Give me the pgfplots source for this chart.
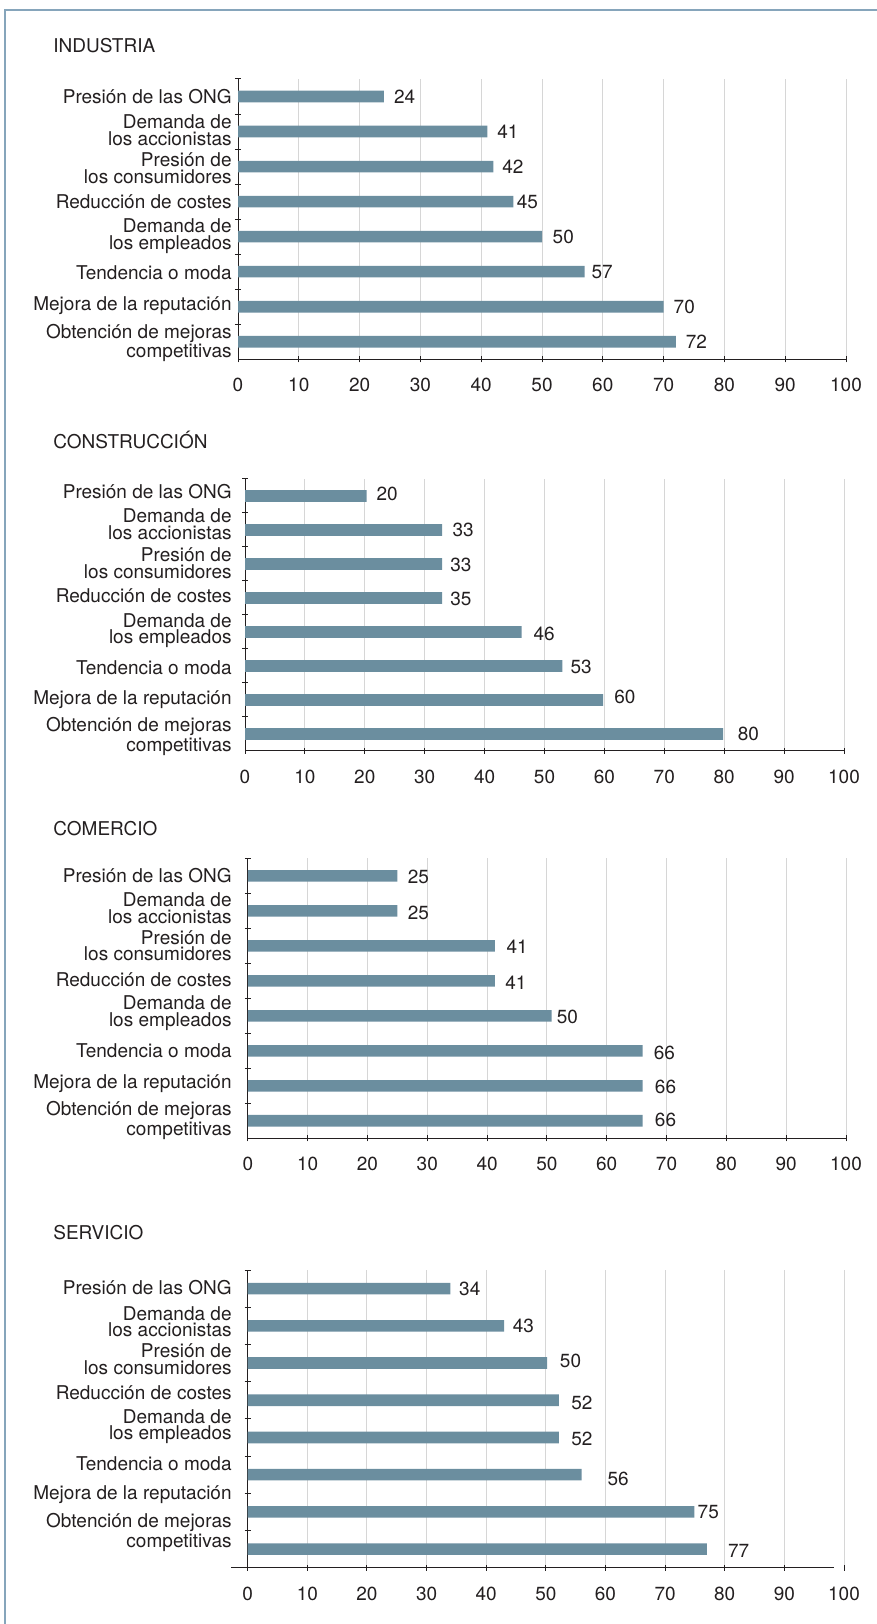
\documentclass[border=0pt]{standalone}
\usepackage{fontspec}
\setmainfont{TeX Gyre Heros}
\usepackage{pgfplots}
\pgfplotsset{compat=1.18}
\definecolor{barcol}{HTML}{6B8E9F}
\definecolor{framecol}{HTML}{86A5BB}
\definecolor{gridcol}{HTML}{D6D6D6}
\definecolor{txt}{HTML}{231F20}
\newcommand\lf{\fontsize{9.5}{8.4}\selectfont}
\pgfplotsset{
  panel/.style={
    scale only axis, anchor=south west,
    xmin=0, xmax=100, ymin=0.5, ymax=8.5,
    axis lines*=left,
    axis line style={txt, line width=0.5pt},
    xtick={0,10,...,100},
    xmajorgrids, major grid style={gridcol, line width=0.5pt},
    tick style={txt, line width=0.5pt},
    major tick length=3pt, minor tick length=3pt, tick align=center,
    major y tick style={draw=none},
    minor ytick={1.5,2.5,...,8.5},
    xticklabel style={font=\lf, text=txt, inner sep=0pt, anchor=north, yshift=-7.8pt},
    yticklabel style={font=\lf, text=txt, align=right, inner sep=0pt, anchor=east},
    yticklabels={{Presión de las ONG},{Demanda de\\los accionistas},{Presión de\\los consumidores},{Reducción de costes},{Demanda de\\los empleados},{Tendencia o moda},{Mejora de la reputación},{Obtención de mejoras\\competitivas}},
    /pgf/number format/assume math mode=true,
    clip=false,
  },
  bars/.style={xbar, bar width=5.8pt, fill=barcol, draw=none},
  vals/.style={draw=none, mark=none, forget plot, nodes near coords, point meta=explicit symbolic,
    every node near coord/.append style={anchor=west, inner sep=0pt, font=\lf, text=txt}},
}
\begin{document}
\begin{tikzpicture}
\path[use as bounding box] (0,0) rectangle (438.5pt,812pt);
\draw[framecol, line width=1pt] (2.65pt,0) -- (2.65pt,806.75pt) -- (438.5pt,806.75pt);
\node[anchor=west, font=\lf, text=txt, inner sep=0pt] at (26.5pt,789.25pt) {INDUSTRIA};
\node[anchor=west, font=\lf, text=txt, inner sep=0pt] at (26.5pt,592pt) {CONSTRUCCIÓN};
\node[anchor=west, font=\lf, text=txt, inner sep=0pt] at (26.5pt,397.85pt) {COMERCIO};
\node[anchor=west, font=\lf, text=txt, inner sep=0pt] at (26.5pt,195.5pt) {SERVICIO};

% INDUSTRIA
\begin{axis}[panel, at={(119pt,632.35pt)}, width=304pt, height=140.15pt,
  ytick={8,7.03,5.95,5,4.02,2.97,2.02,0.97},
  yticklabel style={xshift=-1.5pt}]
\addplot[bars] coordinates {(24,8) (41,7) (42,6) (45.3,5) (50,4) (57,3) (70,2) (72,1)};
\addplot[vals] table[meta=lab] {
x y lab
25.6 8 24
42.6 7 41
43.4 6 42
45.8 5 45
51.7 4 50
58.1 3 57
71.6 2 70
73.6 1 72
};
\end{axis}

% CONSTRUCCION
\begin{axis}[panel, at={(122.5pt,436.5pt)}, width=299.5pt, height=136pt,
  ytick={8.13,7.16,6.02,5.06,4.04,2.95,2.0,0.92},
  yticklabel style={xshift=-5pt}]
\addplot[bars] coordinates {(20.3,8) (32.9,7) (32.9,6) (32.9,5) (46.2,4) (53,3) (59.8,2) (79.8,1)};
\addplot[vals] table[meta=lab] {
x y lab
21.9 8.06 20
34.6 6.99 33
34.2 5.98 33
34.2 4.98 35
48.1 3.95 46
54.3 2.96 53
61.6 2.1 60
82.2 1.0 80
};
\end{axis}

% COMERCIO
\begin{axis}[panel, at={(123.9pt,242.85pt)}, width=299.1pt, height=140pt,
  ytick={8.02,7.07,6.0,5.04,4.07,3.01,2.05,1.01},
  yticklabel style={xshift=-6.4pt}]
\addplot[bars] coordinates {(25,8) (25,7) (41.3,6) (41.3,5) (50.8,4) (66,3) (66,2) (66,1)};
\addplot[vals] table[meta=lab] {
x y lab
26.7 7.97 25
26.7 6.95 25
43.2 5.98 41
43.0 4.93 41
51.6 3.96 50
67.8 2.95 66
68.0 1.97 66
68.0 1.02 66
};
\end{axis}

% SERVICIO
\begin{axis}[panel, at={(123.85pt,28.15pt)}, width=298.15pt, height=148.85pt,
  ytick={8.035,7.11,6.1,5.21,4.29,3.3,2.45,1.44},
  yticklabel style={xshift=-6.35pt},
  x axis line style={draw=none}]
\addplot[bars] coordinates {(34,8) (43,7) (50.2,6) (52.2,5) (52.2,4) (56,3) (74.9,2) (77,1)};
\addplot[vals] table[meta=lab] {
x y lab
35.4 8 34
44.4 7 43
52.3 6.045 50
54.2 4.93 52
54.2 3.955 52
60.3 2.89 56
75.4 2 75
80.5 0.955 77
};
\draw[txt, line width=0.5pt] (axis cs:-2.8,0.5) -- (axis cs:98.3,0.5);
\end{axis}
\end{tikzpicture}
\end{document}
